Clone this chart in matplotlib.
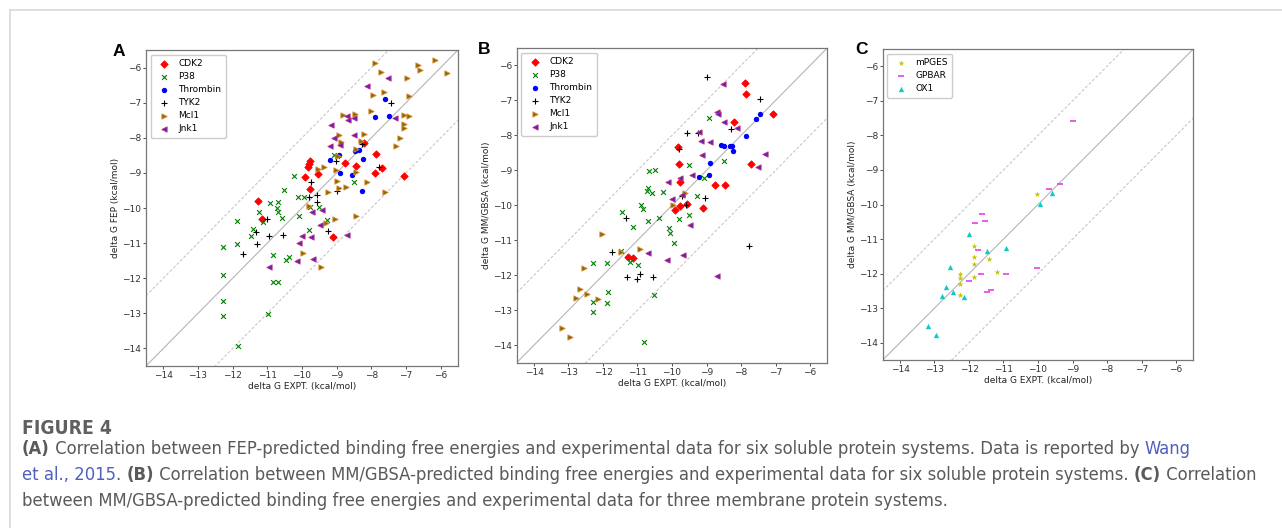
import matplotlib
matplotlib.use("Agg")
import matplotlib.pyplot as plt
from matplotlib.lines import Line2D

# ---- panel A: FEP vs experiment ----
fep_cdk2_x = [-11.26, -11.14, -9.78, -9.80, -9.82, -9.90, -9.77, -9.55, -8.75, -8.44, -8.20, -7.87, -7.88, -7.69, -7.06, -9.10]
fep_cdk2_y = [-9.79, -10.30, -8.67, -8.76, -8.82, -9.12, -9.47, -9.03, -8.71, -8.81, -8.15, -8.47, -9.00, -8.86, -9.08, -10.84]
fep_p38_x = [-10.24, -10.51, -10.11, -9.93, -10.91, -10.68, -10.73, -10.68, -11.23, -11.12, -10.57, -10.08, -11.87, -11.42,
             -11.47, -11.87, -12.28, -12.28, -12.28, -12.28, -11.85, -10.98, -10.85, -10.83, -10.70, -10.47, -10.37, -9.80,
             -9.76, -9.52, -9.29, -8.50, -9.07, -8.99]
fep_p38_y = [-9.08, -9.48, -9.68, -9.70, -9.87, -9.83, -10.01, -10.10, -10.10, -10.39, -10.28, -10.24, -10.36, -10.61,
             -10.81, -11.03, -11.11, -11.90, -12.66, -13.09, -13.94, -13.01, -11.33, -12.11, -12.11, -11.49, -11.39, -10.62,
             -9.96, -9.97, -10.33, -9.26, -8.50, -8.53]
fep_thrombin_x = [-7.62, -7.88, -7.50, -8.47, -8.35, -8.23, -8.92, -9.19, -8.90, -8.57, -8.27]
fep_thrombin_y = [-6.90, -7.42, -7.37, -8.38, -8.36, -8.60, -8.48, -8.62, -9.01, -9.07, -9.53]
fep_tyk2_x = [-7.44, -8.28, -7.79, -9.02, -9.73, -9.81, -9.58, -9.57, -9.00, -9.24, -11.00, -11.33, -11.30, -11.71, -10.95, -10.55]
fep_tyk2_y = [-7.00, -8.18, -8.82, -8.66, -9.27, -9.70, -9.63, -9.84, -9.53, -10.65, -10.31, -10.67, -11.03, -11.31, -10.79, -10.76]
fep_mcl1_x = [-7.88, -6.66, -6.60, -6.15, -5.81, -7.72, -6.97, -7.94, -7.63, -6.90, -8.00, -8.83, -8.47, -7.07, -6.90,
              -7.07, -7.07, -7.17, -7.29, -8.20, -8.92, -8.29, -8.88, -8.45, -8.95, -9.36, -9.53, -9.03, -8.44, -8.98,
              -9.26, -8.72, -8.94, -8.13, -7.62, -9.79, -9.04, -9.30, -8.44, -9.98, -9.44]
fep_mcl1_y = [-5.87, -5.93, -6.08, -5.79, -6.15, -6.14, -6.29, -6.77, -6.71, -6.82, -7.25, -7.36, -7.33, -7.35, -7.37,
              -7.60, -7.71, -8.02, -8.22, -7.90, -7.93, -8.10, -8.12, -8.31, -8.51, -8.84, -8.90, -8.92, -8.98, -9.24,
              -9.54, -9.40, -9.42, -9.25, -9.54, -9.95, -10.30, -10.44, -10.24, -11.27, -11.67]
fep_jnk1_x = [-8.13, -7.53, -8.71, -8.68, -8.50, -7.32, -9.16, -9.09, -8.51, -9.19, -8.90, -9.71, -9.42, -9.47, -9.74,
              -10.00, -10.10, -9.68, -10.14, -10.94, -8.70]
fep_jnk1_y = [-6.52, -6.30, -7.37, -7.50, -7.44, -7.44, -7.64, -8.01, -7.91, -8.24, -8.20, -10.12, -10.05, -10.49, -10.84,
              -10.79, -11.01, -11.45, -11.51, -11.68, -10.77]

# ---- panel B: MM/GBSA vs experiment (soluble) ----
gb_cdk2_x = [-11.27, -11.13, -7.89, -7.85, -7.07, -8.21, -9.84, -9.81, -9.78, -7.70, -8.75, -8.46, -9.10, -9.92, -9.77, -9.56]
gb_cdk2_y = [-11.47, -11.52, -6.49, -6.81, -7.38, -7.61, -8.33, -8.81, -9.33, -8.83, -9.42, -9.42, -10.09, -10.13, -10.02, -9.95]
gb_p38_x = [-10.68, -10.48, -10.69, -10.73, -10.57, -10.25, -10.90, -10.85, -11.45, -11.14, -10.70, -10.38, -11.47, -11.23,
            -10.98, -12.28, -11.88, -11.85, -11.87, -12.28, -12.28, -10.52, -10.81, -10.10, -10.06, -8.93, -9.50, -8.50,
            -9.07, -9.28, -9.50, -9.81, -9.95]
gb_p38_y = [-9.01, -8.99, -9.49, -9.58, -9.65, -9.61, -9.98, -10.11, -10.20, -10.63, -10.44, -10.37, -11.30, -11.63,
            -11.70, -11.65, -11.65, -12.47, -12.78, -12.76, -13.06, -12.57, -13.92, -10.64, -10.78, -7.50, -8.85, -8.72,
            -9.23, -9.73, -10.27, -10.39, -11.09]
gb_thrombin_x = [-7.46, -7.57, -7.85, -8.59, -8.49, -8.33, -8.27, -8.24, -8.91, -8.93, -9.21]
gb_thrombin_y = [-7.38, -7.54, -8.02, -8.27, -8.29, -8.31, -8.29, -8.44, -8.79, -9.12, -9.19]
gb_tyk2_x = [-11.32, -11.73, -11.30, -10.94, -11.00, -10.56, -8.99, -7.44, -9.57, -9.24, -8.29, -9.81, -9.71, -9.03, -9.58, -7.78]
gb_tyk2_y = [-10.35, -11.33, -12.05, -11.97, -12.11, -12.05, -6.32, -6.97, -7.92, -7.94, -7.82, -8.38, -9.74, -9.78, -10.00, -11.17]
gb_mcl1_x = [-12.02, -12.56, -11.49, -10.94, -12.67, -12.79, -12.47, -12.14, -13.20, -12.95, -9.61, -9.97]
gb_mcl1_y = [-10.83, -11.80, -11.33, -11.26, -12.38, -12.64, -12.54, -12.67, -13.52, -13.76, -9.65, -9.98]
gb_jnk1_x = [-10.70, -10.12, -10.15, -8.51, -8.70, -8.68, -8.50, -8.13, -9.21, -9.16, -8.89, -9.12, -7.30, -7.52, -9.77,
             -9.43, -10.01, -9.71, -9.49, -9.69, -8.70]
gb_jnk1_y = [-11.36, -9.33, -11.57, -6.53, -7.33, -7.40, -7.61, -7.80, -7.90, -8.17, -8.18, -8.57, -8.52, -8.90, -9.23,
             -9.14, -9.81, -9.69, -10.56, -11.43, -12.01]

# ---- panel C: MM/GBSA vs experiment (membrane) ----
mem_mpges_x = [-10.03, -11.84, -11.84, -11.84, -11.43, -11.19, -11.84, -12.25, -12.25, -12.25, -12.25]
mem_mpges_y = [-9.70, -11.20, -11.51, -11.71, -11.58, -11.94, -12.11, -12.02, -12.14, -12.31, -12.62]
mem_gpbar_x = [-8.98, -9.36, -9.68, -11.63, -11.54, -11.83, -11.75, -10.04, -11.66, -10.94, -12.00, -11.49, -11.35]
mem_gpbar_y = [-7.57, -9.41, -9.54, -10.28, -10.47, -10.53, -11.31, -11.83, -12.02, -12.02, -12.20, -12.52, -12.47]
mem_ox1_x = [-9.58, -9.95, -12.00, -11.47, -10.94, -12.54, -12.66, -12.78, -12.45, -12.14, -13.20, -12.95]
mem_ox1_y = [-9.66, -9.99, -10.85, -11.34, -11.27, -11.81, -12.39, -12.66, -12.54, -12.68, -13.53, -13.77]

ticks = [-14, -13, -12, -11, -10, -9, -8, -7, -6]
lims = [-14.5, -5.5]

# marker styles
st_cdk2 = dict(marker='D', s=14, c='red', linewidths=0.6, edgecolors='red')
st_p38 = dict(marker='x', s=12, c='green', linewidths=0.8)
st_thr = dict(marker='o', s=15, c='blue', linewidths=0)
st_tyk2 = dict(marker='+', s=15, c='black', linewidths=0.8)
st_mcl1 = dict(marker='>', s=14, c='#6f6a10', edgecolors='#e0892a', linewidths=0.7)
st_jnk1 = dict(marker='<', s=14, c='#4a22d0', edgecolors='#c0307a', linewidths=0.7)
st_mpges = dict(marker='*', s=20, c='#c4c400', linewidths=0)
st_gpbar = dict(marker='_', s=16, c='#e030e0', linewidths=1.1)
st_ox1 = dict(marker='^', s=15, c='#10c8c8', linewidths=0)

FS = 6.5
W, H = 1282, 528
fig = plt.figure(figsize=(W / 100, H / 100), dpi=100)


def box(l, t, r, b):
    return [l / W, 1 - b / H, (r - l) / W, (b - t) / H]


def panel(rect, series, ylabel, letter, letter_xy):
    ax = fig.add_axes(rect)
    ax.plot(lims, lims, color='#b5b5b5', lw=0.8, zorder=1)
    ax.plot(lims, [v + 2 for v in lims], color='#c0c0c0', lw=0.7, ls=(0, (3, 2)), zorder=1)
    ax.plot(lims, [v - 2 for v in lims], color='#c0c0c0', lw=0.7, ls=(0, (3, 2)), zorder=1)
    for name, xs, ys, st in series:
        ax.scatter(xs, ys, label=name, zorder=3, **st)
    ax.set_xlim(lims)
    ax.set_ylim(lims)
    ax.set_xticks(ticks)
    ax.set_yticks(ticks)
    ax.tick_params(labelsize=FS, length=2, width=0.6, pad=1.5, colors='#333333')
    for sp in ax.spines.values():
        sp.set_color('#777777')
        sp.set_linewidth(0.9)
    ax.set_xlabel('delta G EXPT. (kcal/mol)', fontsize=FS, labelpad=1.5, color='#222222')
    ax.set_ylabel(ylabel, fontsize=FS, labelpad=1.5, color='#222222')
    ax.legend(loc='upper left', fontsize=FS, scatterpoints=1, borderpad=0.5,
              labelspacing=0.45, handletextpad=0.6, framealpha=1, edgecolor='#cccccc')
    fig.text(letter_xy[0] / W, 1 - letter_xy[1] / H, letter, fontsize=12.5, fontweight='bold',
             family='Liberation Sans', ha='center', va='center')
    return ax


panel(box(146, 50, 458, 366),
      [('CDK2', fep_cdk2_x, fep_cdk2_y, st_cdk2), ('P38', fep_p38_x, fep_p38_y, st_p38),
       ('Thrombin', fep_thrombin_x, fep_thrombin_y, st_thr), ('TYK2', fep_tyk2_x, fep_tyk2_y, st_tyk2),
       ('Mcl1', fep_mcl1_x, fep_mcl1_y, st_mcl1), ('Jnk1', fep_jnk1_x, fep_jnk1_y, st_jnk1)],
      'delta G FEP (kcal/mol)', 'A', (119, 52))

panel(box(516.7, 48, 827.3, 362.7),
      [('CDK2', gb_cdk2_x, gb_cdk2_y, st_cdk2), ('P38', gb_p38_x, gb_p38_y, st_p38),
       ('Thrombin', gb_thrombin_x, gb_thrombin_y, st_thr), ('TYK2', gb_tyk2_x, gb_tyk2_y, st_tyk2),
       ('Mcl1', gb_mcl1_x, gb_mcl1_y, st_mcl1), ('Jnk1', gb_jnk1_x, gb_jnk1_y, st_jnk1)],
      'delta G MM/GBSA (kcal/mol)', 'B', (484, 50))

panel(box(882.7, 49, 1193.3, 360),
      [('mPGES', mem_mpges_x, mem_mpges_y, st_mpges), ('GPBAR', mem_gpbar_x, mem_gpbar_y, st_gpbar),
       ('OX1', mem_ox1_x, mem_ox1_y, st_ox1)],
      'delta G MM/GBSA (kcal/mol)', 'C', (861, 50))

# page frame (top and left rules)
fig.add_artist(Line2D([10 / W, 1], [1 - 10 / H, 1 - 10 / H], transform=fig.transFigure, color='#d8d8d8', lw=1.2))
fig.add_artist(Line2D([10 / W, 10 / W], [0, 1 - 10 / H], transform=fig.transFigure, color='#d8d8d8', lw=1.2))

# ---- caption ----
cap_font = 'DejaVu Sans'
cap_stretch = 'condensed'
txt_col = '#5a5a5a'
link_col = '#4f5fbf'
line1 = [('(A)', 'bold', txt_col),
         (' Correlation between FEP-predicted binding free energies and experimental data for six soluble protein systems. Data is reported by ', 'normal', txt_col),
         ('Wang', 'normal', link_col)]
line2 = [('et al., 2015', 'normal', link_col), ('. ', 'normal', txt_col), ('(B)', 'bold', txt_col),
         (' Correlation between MM/GBSA-predicted binding free energies and experimental data for six soluble protein systems. ', 'normal', txt_col),
         ('(C)', 'bold', txt_col), (' Correlation', 'normal', txt_col)]
line3 = [('between MM/GBSA-predicted binding free energies and experimental data for three membrane protein systems.', 'normal', txt_col)]

renderer = fig.canvas.get_renderer()


def draw_runs(runs, x0, yc, size, draw=True):
    x = x0
    for s, w, c in runs:
        t = fig.text(x / W, 1 - yc / H, s, fontsize=size, fontweight=w, color=c,
                     family=cap_font, fontstretch=cap_stretch, ha='left', va='center')
        x += t.get_window_extent(renderer).width
        if not draw:
            t.remove()
    return x


# fit caption size so the longest line spans the page like the original
longest = max(draw_runs(line1, 0, 0, 10, False), draw_runs(line2, 0, 0, 10, False))
cap_size = 10 * 1238 / longest

fig.text(22 / W, 1 - 428 / H, 'FIGURE 4', fontsize=cap_size * 1.05, fontweight='bold', color='#606060',
         family=cap_font, fontstretch=cap_stretch, ha='left', va='center')
draw_runs(line1, 22, 449, cap_size)
draw_runs(line2, 22, 475, cap_size)
draw_runs(line3, 22, 501, cap_size)

fig.savefig('out.png', dpi=100, facecolor='white')
